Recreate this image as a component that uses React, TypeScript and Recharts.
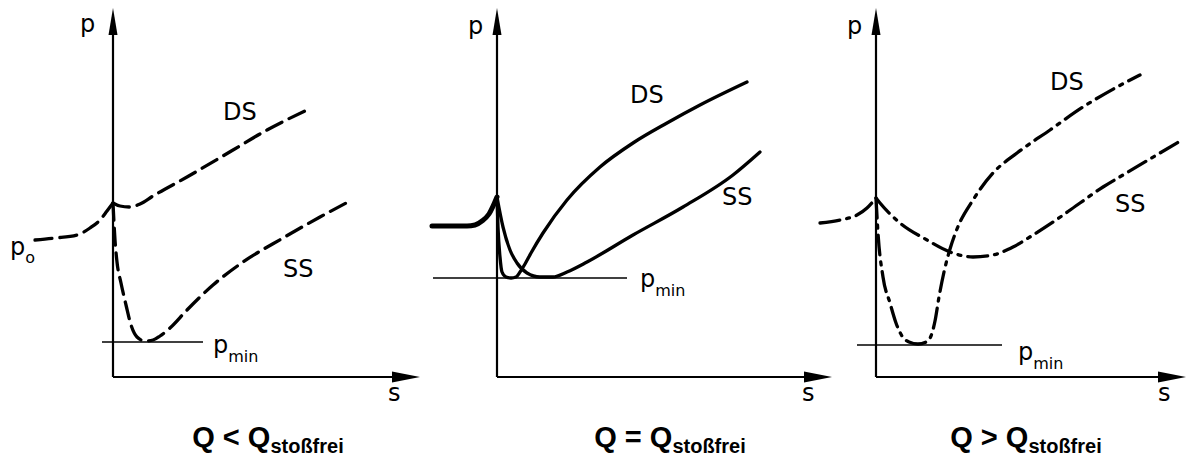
import React from "react";
import { LineChart, Line, XAxis, YAxis, ReferenceLine, ReferenceDot } from "recharts";

type Pt = { s: number; p: number };

// Q < Q_stoßfrei  (dashed)
const lowInflow: Pt[] = [
  { s: -78, p: 137 }, { s: -58, p: 139 }, { s: -36, p: 142 }, { s: -23, p: 149 },
  { s: -13, p: 157 }, { s: -6, p: 166 }, { s: 0, p: 174 },
];
const lowDS: Pt[] = [
  { s: 0, p: 174 }, { s: 7, p: 171 }, { s: 17, p: 170 }, { s: 27, p: 173 },
  { s: 40, p: 181 }, { s: 74, p: 200 }, { s: 120, p: 227 }, { s: 154, p: 247 }, { s: 194, p: 267 },
];
const lowSS: Pt[] = [
  { s: 0, p: 174 }, { s: 2, p: 137 }, { s: 4, p: 115 }, { s: 8, p: 94 }, { s: 13, p: 72 },
  { s: 18, p: 52 }, { s: 24, p: 40 }, { s: 32, p: 36 }, { s: 40, p: 37 }, { s: 47, p: 41 },
  { s: 57, p: 49 }, { s: 74, p: 67 }, { s: 100, p: 92 }, { s: 130, p: 115 }, { s: 170, p: 139 },
  { s: 207, p: 160 }, { s: 235, p: 175 },
];
const lowPmin = 35;

// Q = Q_stoßfrei  (solid)
const designInflow: Pt[] = [
  { s: -65, p: 151 }, { s: -30, p: 151 }, { s: -22, p: 152 }, { s: -15, p: 156 },
  { s: -8, p: 163 }, { s: 0, p: 180 },
];
const designDS: Pt[] = [
  { s: 0, p: 180 }, { s: 1, p: 150 }, { s: 3, p: 120 }, { s: 5, p: 105 }, { s: 9, p: 100 },
  { s: 14, p: 99 }, { s: 19, p: 100 }, { s: 23, p: 105 }, { s: 28, p: 113 }, { s: 34, p: 124 },
  { s: 46, p: 144 }, { s: 70, p: 177 }, { s: 103, p: 210 }, { s: 136, p: 234 }, { s: 170, p: 254 },
  { s: 203, p: 272 }, { s: 250, p: 295 },
];
const designSS: Pt[] = [
  { s: 0, p: 180 }, { s: 6, p: 150 }, { s: 13, p: 127 }, { s: 20, p: 114 }, { s: 30, p: 104 },
  { s: 43, p: 100 }, { s: 56, p: 100 }, { s: 70, p: 105 }, { s: 90, p: 115 }, { s: 136, p: 142 },
  { s: 186, p: 170 }, { s: 236, p: 202 }, { s: 263, p: 225 },
];
const designPmin = 99;

// Q > Q_stoßfrei  (dash-dot)
const highInflow: Pt[] = [
  { s: -56, p: 154 }, { s: -36, p: 157 }, { s: -19, p: 162 }, { s: -9, p: 169 }, { s: 0, p: 179 },
];
const highDS: Pt[] = [
  { s: 0, p: 179 }, { s: 2, p: 144 }, { s: 7, p: 100 }, { s: 14, p: 74 }, { s: 20, p: 54 },
  { s: 26, p: 41 }, { s: 33, p: 35 }, { s: 42, p: 33 }, { s: 50, p: 35 }, { s: 55, p: 41 },
  { s: 59, p: 56 }, { s: 63, p: 80 }, { s: 68, p: 105 }, { s: 74, p: 128 }, { s: 81, p: 148 },
  { s: 97, p: 177 }, { s: 117, p: 204 }, { s: 141, p: 224 }, { s: 174, p: 247 }, { s: 207, p: 270 },
  { s: 241, p: 290 }, { s: 264, p: 302 },
];
const highSS: Pt[] = [
  { s: 0, p: 179 }, { s: 4, p: 174 }, { s: 24, p: 154 }, { s: 51, p: 137 }, { s: 74, p: 125 },
  { s: 97, p: 120 }, { s: 117, p: 122 }, { s: 137, p: 130 }, { s: 157, p: 142 }, { s: 180, p: 157 },
  { s: 204, p: 174 }, { s: 227, p: 190 }, { s: 247, p: 202 }, { s: 306, p: 237 },
];
const highPmin = 32;

const captionMain = ["Q < Q", "Q = Q", "Q > Q"];
const captionSub = "stoßfrei";

const H = 461;
const Y0 = 377; // origin, px from top
const LABEL_FONT = "DejaVu Sans, sans-serif";

type PanelProps = {
  left: number;
  width: number;
  x0: number;
  inflow: Pt[];
  ds: Pt[];
  ss: Pt[];
  pmin: number;
  pminFrom: number;
  pminTo: number;
  axisEnd: number;
  dash?: string;
  inflowWidth: number;
  caption: string;
  pos: Record<string, [number, number]>;
};

const tag = (key: string, at: [number, number], main: string, sub?: string, subDy = 8) => (
  <ReferenceDot
    key={key}
    x={at[0]}
    y={at[1]}
    r={0}
    ifOverflow="visible"
    shape={(d: any) => (
      <text x={d.cx} y={d.cy} fontFamily={LABEL_FONT} fontSize={24} fill="#000">
        {main}
        {sub ? (
          <tspan fontSize={16} dy={subDy}>
            {sub}
          </tspan>
        ) : null}
      </text>
    )}
  />
);

function Panel(props: PanelProps) {
  const { left, width, x0, inflow, ds, ss, pmin, pminFrom, pminTo, axisEnd, dash, inflowWidth, caption, pos } = props;
  const line = { type: "monotone" as const, dataKey: "p", stroke: "#000", dot: false, activeDot: false, isAnimationActive: false, strokeLinecap: "round" as const };
  return (
    <div style={{ position: "absolute", left, top: 0, pointerEvents: "none" }}>
      <LineChart width={width} height={H} margin={{ top: 0, right: 0, bottom: 0, left: 0 }}>
        <XAxis dataKey="s" type="number" domain={[left - x0, left + width - x0]} allowDataOverflow hide />
        <YAxis type="number" domain={[Y0 - H, Y0]} allowDataOverflow hide />
        <ReferenceLine segment={[{ x: 0, y: 0 }, { x: 0, y: 350 }]} stroke="#000" strokeWidth={2.2} />
        <ReferenceLine segment={[{ x: 0, y: 0 }, { x: axisEnd - 20, y: 0 }]} stroke="#000" strokeWidth={2.2} />
        <ReferenceLine segment={[{ x: pminFrom, y: pmin }, { x: pminTo, y: pmin }]} stroke="#000" strokeWidth={1.6} />
        <ReferenceDot
          x={0}
          y={369}
          r={0}
          ifOverflow="visible"
          shape={(d: any) => (
            <polygon points={`${d.cx},${d.cy} ${d.cx - 4.5},${d.cy + 27} ${d.cx + 4.5},${d.cy + 27}`} fill="#000" />
          )}
        />
        <ReferenceDot
          x={axisEnd}
          y={0}
          r={0}
          ifOverflow="visible"
          shape={(d: any) => (
            <polygon points={`${d.cx},${d.cy} ${d.cx - 28},${d.cy - 5.5} ${d.cx - 28},${d.cy + 5.5}`} fill="#000" />
          )}
        />
        <Line {...line} data={inflow} strokeWidth={inflowWidth} strokeDasharray={dash} />
        <Line {...line} data={ds} strokeWidth={3.3} strokeDasharray={dash} />
        <Line {...line} data={ss} strokeWidth={3.3} strokeDasharray={dash} />
        {tag("p", pos.p, "p")}
        {tag("ds", pos.ds, "DS")}
        {tag("ss", pos.ss, "SS")}
        {tag("pmin", pos.pmin, "p", "min", 9)}
        {tag("s", pos.s, "s")}
        {pos.p0 ? tag("p0", pos.p0, "p", "o", 8) : null}
        <ReferenceDot
          x={pos.caption[0]}
          y={pos.caption[1]}
          r={0}
          ifOverflow="visible"
          shape={(d: any) => (
            <text x={d.cx} y={d.cy} textAnchor="middle" fontFamily="Liberation Sans, Arial, sans-serif" fontWeight="bold" fontSize={29} fill="#000">
              {caption}
              <tspan fontSize={20} dy={6}>
                {captionSub}
              </tspan>
            </text>
          )}
        />
      </LineChart>
    </div>
  );
}

export default function App() {
  return (
    <div style={{ position: "relative", width: 1186, height: H, background: "#fff", overflow: "hidden" }}>
      <style>{"body{margin:0}"}</style>
      <Panel
        left={0}
        width={440}
        x0={113}
        inflow={lowInflow}
        ds={lowDS}
        ss={lowSS}
        pmin={lowPmin}
        pminFrom={-11}
        pminTo={90}
        axisEnd={307}
        dash="17 8"
        inflowWidth={3.3}
        caption={captionMain[0]}
        pos={{ p: [-33, 345], ds: [110, 257], ss: [170, 100], pmin: [100, 24], s: [275, -24], p0: [-103, 122], caption: [155, -70] }}
      />
      <Panel
        left={400}
        width={440}
        x0={497}
        inflow={designInflow}
        ds={designDS}
        ss={designSS}
        pmin={designPmin}
        pminFrom={-64}
        pminTo={130}
        axisEnd={335}
        inflowWidth={5}
        caption={captionMain[1]}
        pos={{ p: [-29, 343], ds: [133, 274], ss: [225, 172], pmin: [143, 90], s: [305, -24], caption: [173, -70] }}
      />
      <Panel
        left={790}
        width={396}
        x0={876}
        inflow={highInflow}
        ds={highDS}
        ss={highSS}
        pmin={highPmin}
        pminFrom={-19}
        pminTo={126}
        axisEnd={310}
        dash="20 7 3 7"
        inflowWidth={3.3}
        caption={captionMain[2]}
        pos={{ p: [-29, 343], ds: [174, 287], ss: [239, 165], pmin: [142, 17], s: [282, -24], caption: [150, -70] }}
      />
    </div>
  );
}
